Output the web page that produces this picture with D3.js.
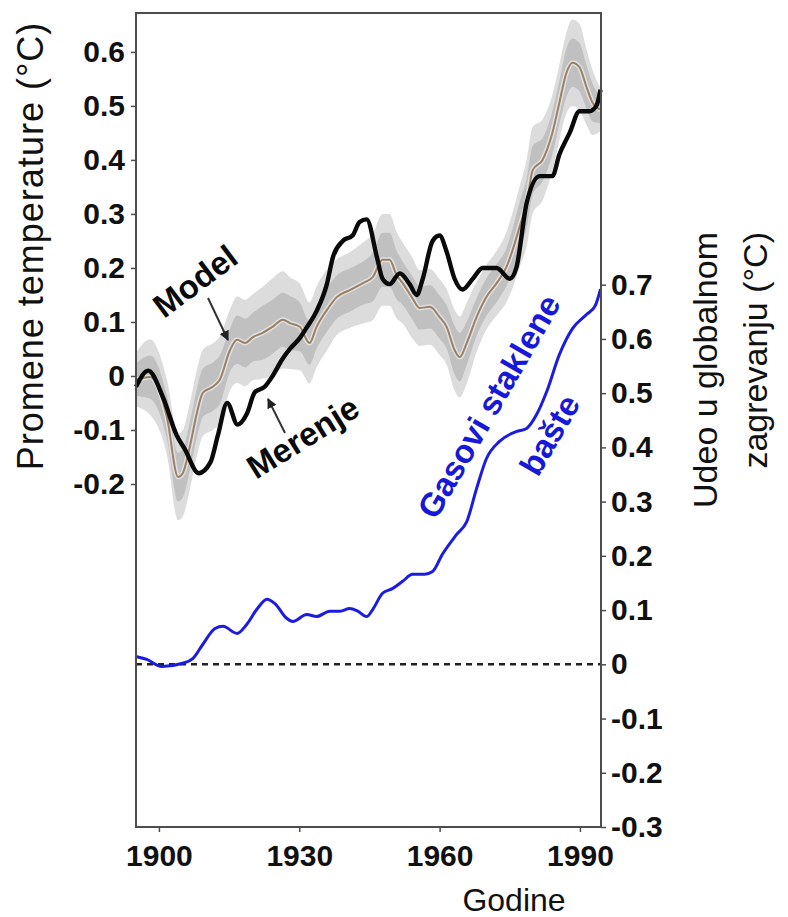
<!DOCTYPE html>
<html>
<head>
<meta charset="utf-8">
<script src="https://cdn.jsdelivr.net/npm/d3@7"></script>
<style>
    body { margin: 0; background: #fff; }
    svg text { font-family: "Liberation Sans", Arial, sans-serif; }
</style>
</head>
<body>
<div id="chart"></div>
<script>
// measured temperature change (°C), left axis
const obsYears = [1895.1, 1897.7, 1900.9, 1903.8, 1905.5, 1908.5, 1911.0, 1912.6, 1914.6, 1916.8, 1918.8, 1920.5, 1922.6,
    1924.3, 1926.3, 1928.0, 1930.1, 1931.6, 1933.7, 1935.9, 1937.2, 1939.3, 1941.4, 1942.9, 1944.4, 1946.6, 1947.8,
    1949.3, 1951.5, 1953.6, 1955.1, 1956.4, 1958.5, 1960.0, 1961.5, 1963.2, 1964.9, 1967.1, 1969.2, 1972.2, 1975.0,
    1976.4, 1978.6, 1981.4, 1984.1, 1985.6, 1987.8, 1989.9, 1992.0, 1993.5, 1994.4];
const obsVals = [-0.02, 0.01, -0.04, -0.11, -0.135, -0.18, -0.16, -0.11, -0.05, -0.09, -0.07, -0.03, -0.02,
    0.0, 0.03, 0.05, 0.07, 0.09, 0.12, 0.17, 0.22, 0.25, 0.26, 0.285, 0.29, 0.22, 0.18,
    0.17, 0.19, 0.17, 0.15, 0.18, 0.25, 0.26, 0.23, 0.18, 0.16, 0.18, 0.2, 0.2, 0.18,
    0.2, 0.32, 0.37, 0.37, 0.41, 0.45, 0.49, 0.49, 0.5, 0.53];

// model mean and its two uncertainty bands (half widths)
const modelYears = [1895.1, 1898.1, 1901.7, 1904.1, 1905.1, 1906.6, 1908.1, 1909.4, 1911.5, 1913.0, 1915.2, 1916.7,
    1918.4, 1920.1, 1922.2, 1924.3, 1926.5, 1928.0, 1930.1, 1932.2, 1933.7, 1935.9, 1938.0, 1940.8, 1943.6, 1945.7,
    1947.8, 1949.3, 1950.8, 1952.1, 1954.2, 1955.7, 1957.9, 1960.0, 1961.5, 1963.2, 1964.3, 1965.8, 1967.9, 1970.0,
    1972.2, 1974.3, 1975.6, 1977.1, 1978.6, 1979.9, 1982.0, 1984.1, 1985.6, 1987.1, 1988.4, 1989.9, 1991.4, 1992.7, 1994.4];
const modelVals = [-0.007, -0.002, -0.076, -0.187, -0.18, -0.131, -0.069, -0.031, -0.02, -0.007, 0.048, 0.067,
    0.061, 0.072, 0.08, 0.091, 0.104, 0.098, 0.091, 0.061, 0.091, 0.122, 0.146, 0.159, 0.172, 0.183,
    0.215, 0.215, 0.187, 0.172, 0.144, 0.126, 0.128, 0.109, 0.091, 0.048, 0.035, 0.061, 0.109, 0.146,
    0.172, 0.202, 0.233, 0.276, 0.32, 0.381, 0.4, 0.45, 0.506, 0.561, 0.58, 0.572, 0.535, 0.506, 0.493];
const outerSpread = [0.05, 0.07, 0.07, 0.08, 0.08, 0.08, 0.08, 0.08, 0.08, 0.08, 0.075, 0.08,
    0.08, 0.08, 0.085, 0.09, 0.09, 0.085, 0.08, 0.075, 0.075, 0.075, 0.07, 0.07, 0.075, 0.08,
    0.085, 0.085, 0.08, 0.075, 0.075, 0.07, 0.07, 0.07, 0.07, 0.075, 0.075, 0.075, 0.065, 0.06,
    0.06, 0.065, 0.07, 0.075, 0.08, 0.08, 0.075, 0.07, 0.07, 0.075, 0.08, 0.08, 0.07, 0.06, 0.04];
const innerSpread = [0.03, 0.04, 0.04, 0.045, 0.045, 0.045, 0.045, 0.045, 0.045, 0.045, 0.04, 0.045,
    0.045, 0.045, 0.05, 0.05, 0.05, 0.05, 0.045, 0.04, 0.04, 0.04, 0.04, 0.04, 0.04, 0.045,
    0.05, 0.05, 0.045, 0.04, 0.04, 0.04, 0.04, 0.04, 0.04, 0.045, 0.045, 0.04, 0.035, 0.035,
    0.035, 0.035, 0.04, 0.045, 0.045, 0.045, 0.04, 0.04, 0.04, 0.045, 0.045, 0.045, 0.04, 0.035, 0.025];

// greenhouse gas contribution (°C), right axis
const ghgYears = [1894.9, 1897.4, 1900.6, 1905.1, 1907.3, 1909.4, 1912.0, 1913.7, 1916.7, 1918.8, 1920.9, 1923.1,
    1924.8, 1927.3, 1928.6, 1931.6, 1933.7, 1936.5, 1938.7, 1940.8, 1942.5, 1944.4, 1945.7, 1947.8, 1950.0,
    1952.1, 1954.2, 1956.8, 1958.5, 1960.6, 1963.6, 1965.8, 1967.9, 1970.0, 1972.8, 1976.4, 1978.6, 1980.7,
    1982.9, 1985.6, 1988.4, 1991.4, 1993.3, 1994.4];
const ghgVals = [0.015, 0.009, -0.004, 0.002, 0.011, 0.037, 0.066, 0.07, 0.057, 0.074, 0.101, 0.12,
    0.112, 0.085, 0.079, 0.092, 0.088, 0.098, 0.098, 0.103, 0.098, 0.088, 0.101, 0.131, 0.14,
    0.153, 0.166, 0.166, 0.171, 0.203, 0.239, 0.263, 0.324, 0.379, 0.411, 0.429, 0.435, 0.46,
    0.503, 0.571, 0.619, 0.645, 0.662, 0.692];

const xTicks = [1900, 1930, 1960, 1990];
const leftTicks = [-0.2, -0.1, 0, 0.1, 0.2, 0.3, 0.4, 0.5, 0.6];
const rightTicks = [-0.3, -0.2, -0.1, 0, 0.1, 0.2, 0.3, 0.4, 0.5, 0.6, 0.7];

const margin = {top: 13, right: 187, bottom: 90, left: 136};
const W = 788, H = 917;
const width = W - margin.left - margin.right;
const height = H - margin.top - margin.bottom;

const svg = d3.select('#chart').append('svg')
    .attr('width', W)
    .attr('height', H);

const chart = svg.append('g')
    .attr('transform', `translate(${margin.left},${margin.top})`);

const x = d3.scaleLinear().domain([1895.1, 1994.5]).range([0, width]);
const yL = d3.scaleLinear().domain([-0.835, 0.672]).range([height, 0]);
const yR = d3.scaleLinear().domain([-0.3, 1.201]).range([height, 0]);

const fmt = d => d === 0 ? '0' : d.toFixed(1);

// model bands
const modelData = modelYears.map((yr, i) => ({
    year: yr, v: modelVals[i], o: outerSpread[i], n: innerSpread[i]
}));

const band = (key) => d3.area()
    .x(d => x(d.year))
    .y0(d => yL(d.v - d[key]))
    .y1(d => yL(d.v + d[key]))
    .curve(d3.curveMonotoneX);

const plot = chart.append('g');

plot.append('path')
    .datum(modelData)
    .attr('fill', '#dcdcdc')
    .attr('d', band('o'));

plot.append('path')
    .datum(modelData)
    .attr('fill', '#c0c0c0')
    .attr('d', band('n'));

const modelLine = d3.line()
    .x(d => x(d.year))
    .y(d => yL(d.v))
    .curve(d3.curveMonotoneX);

plot.append('path')
    .datum(modelData)
    .attr('fill', 'none')
    .attr('stroke', 'rgba(255,255,255,0.5)')
    .attr('stroke-width', 5)
    .attr('d', modelLine);

plot.append('path')
    .datum(modelData)
    .attr('fill', 'none')
    .attr('stroke', '#9a8066')
    .attr('stroke-width', 2)
    .attr('d', modelLine);

// observed
const obsData = obsYears.map((yr, i) => ({year: yr, v: obsVals[i]}));
plot.append('path')
    .datum(obsData)
    .attr('fill', 'none')
    .attr('stroke', '#0a0a0a')
    .attr('stroke-width', 4.4)
    .attr('stroke-linejoin', 'round')
    .attr('d', d3.line()
        .x(d => x(d.year))
        .y(d => yL(d.v))
        .curve(d3.curveMonotoneX));

// zero line of right axis
plot.append('line')
    .attr('x1', 0)
    .attr('x2', width)
    .attr('y1', yR(0))
    .attr('y2', yR(0))
    .attr('stroke', '#222')
    .attr('stroke-width', 2.5)
    .attr('stroke-dasharray', '6,5');

// greenhouse gases
const ghgData = ghgYears.map((yr, i) => ({year: yr, v: ghgVals[i]}));
plot.append('path')
    .datum(ghgData)
    .attr('fill', 'none')
    .attr('stroke', '#1c1ce0')
    .attr('stroke-width', 3)
    .attr('d', d3.line()
        .x(d => x(d.year))
        .y(d => yR(d.v))
        .curve(d3.curveMonotoneX));

// frame
chart.append('rect')
    .attr('width', width)
    .attr('height', height)
    .attr('fill', 'none')
    .attr('stroke', '#4d4d4d')
    .attr('stroke-width', 2);

// axes
const styleAxis = (g) => {
    g.select('.domain').remove();
    g.selectAll('.tick line').attr('stroke', '#4d4d4d').attr('stroke-width', 1.5);
    g.selectAll('.tick text')
        .attr('fill', '#111')
        .style('font-size', '30px')
        .style('font-weight', 'bold');
};

chart.append('g')
    .call(d3.axisLeft(yL).tickValues(leftTicks).tickSize(5).tickPadding(6).tickFormat(fmt))
    .call(styleAxis);

chart.append('g')
    .attr('transform', `translate(${width},0)`)
    .call(d3.axisRight(yR).tickValues(rightTicks).tickSize(5).tickPadding(5).tickFormat(fmt))
    .call(styleAxis);

chart.append('g')
    .attr('transform', `translate(0,${height})`)
    .call(d3.axisBottom(x).tickValues(xTicks).tickSize(5).tickPadding(13).tickFormat(d3.format('d')))
    .call(styleAxis);

// axis titles
svg.append('text')
    .attr('transform', 'translate(43,246) rotate(-90)')
    .attr('text-anchor', 'middle')
    .style('font-size', '36px')
    .style('letter-spacing', '1px')
    .attr('fill', '#111')
    .text('Promene temperature  (°C)');

svg.append('text')
    .attr('transform', 'translate(717,232) rotate(-90)')
    .attr('text-anchor', 'end')
    .style('font-size', '34px')
    .attr('fill', '#111')
    .text('Udeo u globalnom');

svg.append('text')
    .attr('transform', 'translate(767,232) rotate(-90)')
    .attr('text-anchor', 'end')
    .style('font-size', '34px')
    .attr('fill', '#111')
    .text('zagrevanju (°C)');

svg.append('text')
    .attr('x', 514)
    .attr('y', 911)
    .attr('text-anchor', 'middle')
    .style('font-size', '32px')
    .attr('fill', '#111')
    .text('Godine');

// annotations
svg.append('defs').append('marker')
    .attr('id', 'head')
    .attr('viewBox', '0 0 10 10')
    .attr('refX', 9)
    .attr('refY', 5)
    .attr('markerWidth', 5)
    .attr('markerHeight', 5)
    .attr('markerUnits', 'strokeWidth')
    .attr('orient', 'auto')
    .append('path')
    .attr('d', 'M0,0L10,5L0,10z')
    .attr('fill', '#222');

const arrows = [
    {from: [208, 298], to: [228, 340]},
    {from: [285, 433], to: [268, 399]}
];
svg.selectAll('.arrow')
    .data(arrows)
    .join('line')
    .attr('class', 'arrow')
    .attr('x1', d => d.from[0])
    .attr('y1', d => d.from[1])
    .attr('x2', d => d.to[0])
    .attr('y2', d => d.to[1])
    .attr('stroke', '#333')
    .attr('stroke-width', 2)
    .attr('marker-end', 'url(#head)');

const labels = [
    {text: 'Model', x: 164, y: 319, angle: -37, color: '#0a0a0a'},
    {text: 'Merenje', x: 256, y: 480, angle: -32, color: '#0a0a0a'},
    {text: 'Gasovi staklene', x: 436, y: 521, angle: -60, color: '#1818d8'},
    {text: 'bašte', x: 538, y: 478, angle: -60, color: '#1818d8'}
];
svg.selectAll('.note')
    .data(labels)
    .join('text')
    .attr('class', 'note')
    .attr('transform', d => `translate(${d.x},${d.y}) rotate(${d.angle})`)
    .attr('fill', d => d.color)
    .style('font-size', '33px')
    .style('font-weight', 'bold')
    .text(d => d.text);
</script>
</body>
</html>
